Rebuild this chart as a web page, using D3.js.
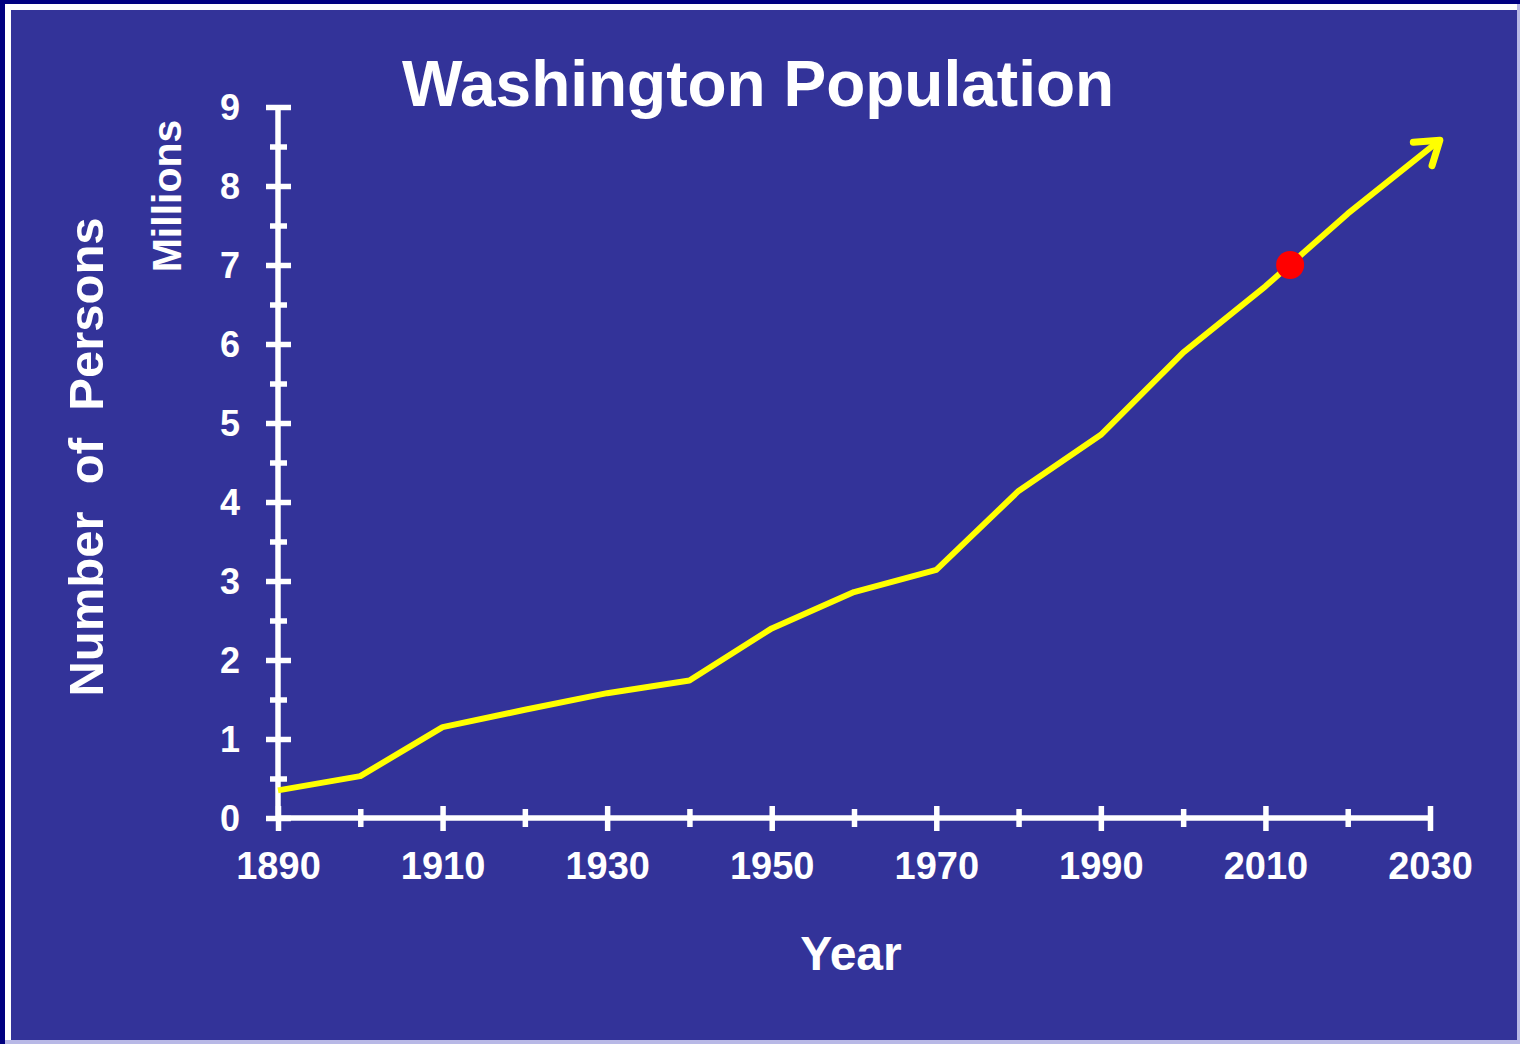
<!DOCTYPE html>
<html>
<head>
<meta charset="utf-8">
<script src="https://cdn.jsdelivr.net/npm/d3@7"></script>
<style>
  html, body { margin: 0; padding: 0; background: #000080; }
  svg { display: block; }
  text { font-family: "Liberation Sans", Arial, sans-serif; fill: #ffffff; }
</style>
</head>
<body>
<svg id="chart" width="1520" height="1044"></svg>
<script>
// ---- data ----
const years  = [1890, 1900, 1910, 1920, 1930, 1940, 1950, 1960, 1970, 1980, 1990, 2000, 2010, 2020];
const values = [0.35, 0.53, 1.15, 1.37, 1.58, 1.74, 2.40, 2.86, 3.14, 4.14, 4.85, 5.89, 6.73, 7.65];
const projectionYear  = 2031.2;
const projectionValue = 8.58;
const highlightYear  = 2013;
const highlightValue = 7.0;
const xTickLabels = [1890, 1910, 1930, 1950, 1970, 1990, 2010, 2030];
const yTickLabels = [0, 1, 2, 3, 4, 5, 6, 7, 8, 9];
const titleText = "Washington Population";
const xTitle = "Year";
const yTitle = "Number  of  Persons";
const yUnit = "Millions";

// ---- layout ----
const svg = d3.select("#chart");
svg.append("rect").attr("x", 0).attr("y", 0).attr("width", 1520).attr("height", 1044).attr("fill", "#000080");
svg.append("rect").attr("x", 5).attr("y", 4).attr("width", 1515).attr("height", 1040).attr("fill", "#b8b8e6");
svg.append("rect").attr("x", 5).attr("y", 4).attr("width", 1512).attr("height", 1036).attr("fill", "#ffffff");
svg.append("rect").attr("x", 11).attr("y", 10).attr("width", 1506).attr("height", 1030).attr("fill", "#333399");

const x = d3.scaleLinear().domain([1890, 2030]).range([278, 1430]);
const y = d3.scaleLinear().domain([0, 9]).range([818, 107]);

// ---- axes ----
const yAxis = d3.axisLeft(y)
  .tickValues(d3.range(0, 9.001, 0.5))
  .tickSize(0)
  .tickFormat(d => yTickLabels.includes(d) ? d : "");
const gy = svg.append("g").attr("transform", `translate(${x(1890)},0)`).call(yAxis);
gy.select(".domain").attr("stroke", "#fff").attr("stroke-width", 5.5).attr("d", `M0,${y(0)}V${y(9)}`);
gy.selectAll(".tick line")
  .attr("stroke", "#fff")
  .attr("stroke-width", 5.5)
  .attr("x1", d => Number.isInteger(d) ? -12 : -8)
  .attr("x2", d => Number.isInteger(d) ? 13 : 9);
gy.selectAll(".tick text")
  .attr("x", -38).attr("dy", "0.36em")
  .style("font-size", "36px").style("font-weight", "bold")
  .attr("fill", "#fff");

const xAxis = d3.axisBottom(x)
  .tickValues(d3.range(1890, 2030.1, 10))
  .tickSize(0)
  .tickFormat(d => xTickLabels.includes(d) ? d : "");
const gx = svg.append("g").attr("transform", `translate(0,${y(0)})`).call(xAxis);
gx.select(".domain").attr("stroke", "#fff").attr("stroke-width", 5.5).attr("d", `M${x(1890)},0H${x(2030)}`);
gx.selectAll(".tick line")
  .attr("stroke", "#fff")
  .attr("stroke-width", 5.5)
  .attr("y1", d => xTickLabels.includes(d) ? -12 : -9)
  .attr("y2", d => xTickLabels.includes(d) ? 13 : 9);
gx.selectAll(".tick text")
  .attr("y", 61).attr("dy", "0")
  .style("font-size", "38px").style("font-weight", "bold")
  .attr("fill", "#fff");

// ---- line with arrow ----
const defs = svg.append("defs");
defs.append("marker")
  .attr("id", "arrow")
  .attr("markerUnits", "userSpaceOnUse")
  .attr("viewBox", "-32 -22 38 44")
  .attr("refX", 0).attr("refY", 0)
  .attr("markerWidth", 38).attr("markerHeight", 44)
  .attr("orient", "auto")
  .append("path")
  .attr("d", "M-22,-15L0,0L-22,15")
  .attr("fill", "none")
  .attr("stroke", "#ffff00")
  .attr("stroke-width", 7)
  .attr("stroke-linecap", "round")
  .attr("stroke-linejoin", "round");

const pts = years.map((yr, i) => [yr, values[i]]).concat([[projectionYear, projectionValue]]);
const line = d3.line().x(d => x(d[0])).y(d => y(d[1]));
svg.append("path")
  .datum(pts)
  .attr("d", line)
  .attr("fill", "none")
  .attr("stroke", "#ffff00")
  .attr("stroke-width", 6)
  .attr("stroke-linejoin", "round")
  .attr("marker-end", "url(#arrow)");

svg.append("circle")
  .attr("cx", x(highlightYear)).attr("cy", y(highlightValue))
  .attr("r", 14).attr("fill", "#ff0000");

// ---- titles ----
svg.append("text").attr("x", 758).attr("y", 106).attr("text-anchor", "middle")
  .style("font-size", "64px").style("font-weight", "bold").text(titleText);
svg.append("text").attr("x", 851).attr("y", 970).attr("text-anchor", "middle")
  .style("font-size", "48px").style("font-weight", "bold").text(xTitle);
svg.append("text").attr("transform", "translate(103,457) rotate(-90)").attr("text-anchor", "middle")
  .style("font-size", "49px").style("font-weight", "bold").style("white-space", "pre")
  .attr("xml:space", "preserve").text(yTitle);
svg.append("text").attr("transform", "translate(181,196) rotate(-90)").attr("text-anchor", "middle")
  .style("font-size", "41px").style("font-weight", "bold").text(yUnit);
</script>
</body>
</html>
